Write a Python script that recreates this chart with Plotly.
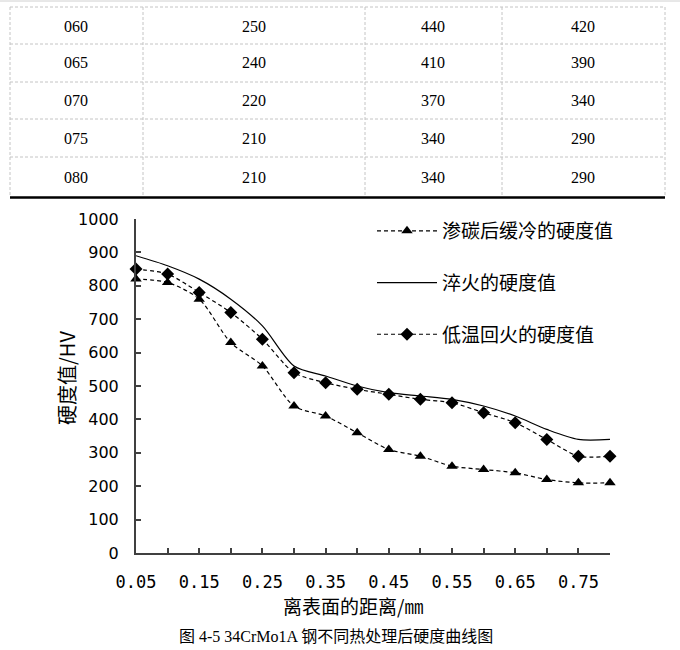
import plotly.graph_objects as go

# ---------------- data ----------------
distance = [0.05, 0.10, 0.15, 0.20, 0.25, 0.30, 0.35, 0.40,
            0.45, 0.50, 0.55, 0.60, 0.65, 0.70, 0.75, 0.80]
carburized = [820, 810, 760, 630, 560, 440, 410, 360,
              310, 290, 260, 250, 240, 220, 210, 210]
quenched = [890, 860, 820, 760, 680, 560, 530, 500,
            480, 470, 460, 440, 410, 370, 340, 340]
tempered = [850, 835, 780, 720, 640, 540, 510, 490,
            475, 460, 450, 420, 390, 340, 290, 290]
x_tick_text = ["0.05", "", "0.15", "", "0.25", "", "0.35", "",
               "0.45", "", "0.55", "", "0.65", "", "0.75", ""]
y_ticks = [0, 100, 200, 300, 400, 500, 600, 700, 800, 900, 1000]

series_names = ["渗碳后缓冷的硬度值", "淬火的硬度值", "低温回火的硬度值"]

table_distance = ["060", "065", "070", "075", "080"]
table_carburized = ["250", "240", "220", "210", "210"]
table_quenched = ["440", "410", "370", "340", "340"]
table_tempered = ["420", "390", "340", "290", "290"]

x_title = "离表面的距离/㎜"
y_title = "硬度值/HV"
caption = "图 4-5 34CrMo1A 钢不同热处理后硬度曲线图"

# ---------------- layout helpers ----------------
W, H = 680, 650


def px(x):
    return x / W


def py(y):
    return 1 - y / H


AX = "#404040"
DASH = "4px,3px"

fig = go.Figure()

fig.add_trace(go.Scatter(
    x=distance, y=carburized, name=series_names[0], mode="lines+markers",
    line=dict(color="black", width=1.2, dash=DASH, shape="spline", smoothing=0.8),
    marker=dict(symbol="triangle-up", size=10, color="black"),
    cliponaxis=False, legendgroup="a"))
fig.add_trace(go.Scatter(
    x=distance, y=quenched, name=series_names[1], mode="lines",
    line=dict(color="black", width=1.2, shape="spline", smoothing=0.8),
    cliponaxis=False, legendgroup="b"))
fig.add_trace(go.Scatter(
    x=distance, y=tempered, name=series_names[2], mode="lines+markers",
    line=dict(color="black", width=1.2, dash=DASH, shape="spline", smoothing=0.8),
    marker=dict(symbol="diamond", size=10, color="black"),
    cliponaxis=False, legendgroup="c"))

fig.update_layout(
    template="none",
    width=W, height=H,
    margin=dict(l=0, r=0, t=0, b=0, pad=0, autoexpand=False),
    paper_bgcolor="white", plot_bgcolor="white",
    showlegend=True,
    legend=dict(
        x=px(372), y=py(212), xanchor="left", yanchor="top",
        bgcolor="rgba(0,0,0,0)", borderwidth=0,
        traceorder="grouped", tracegroupgap=24,
        itemwidth=60,
        font=dict(family="Noto Sans CJK SC", size=19, color="black")),
    xaxis=dict(
        domain=[px(136), px(610)], range=[0.05, 0.80],
        tickvals=distance, ticktext=x_tick_text,
        ticks="inside", ticklen=5, tickwidth=1.5, tickcolor=AX,
        ticklabelstandoff=13, automargin=False,
        showline=True, linecolor=AX, linewidth=2,
        showgrid=False, zeroline=False,
        tickfont=dict(family="DejaVu Sans Mono", size=17, color="black")),
    yaxis=dict(
        domain=[py(553), py(219)], range=[0, 1000],
        tickvals=y_ticks,
        ticks="inside", ticklen=5, tickwidth=1.5, tickcolor=AX,
        ticklabelstandoff=12, automargin=False,
        showline=True, linecolor=AX, linewidth=2,
        showgrid=False, zeroline=False,
        tickfont=dict(family="DejaVu Sans", size=16, color="black")),
)

annotations = []
shapes = []


def label(xp, yp, text, font, angle=0):
    annotations.append(dict(x=px(xp), y=py(yp), xref="paper", yref="paper",
                            xanchor="center", yanchor="middle",
                            text=text, showarrow=False, textangle=angle, font=font))


# axis titles & caption
label(353, 605, x_title, dict(family="Noto Sans CJK SC", size=19, color="black"))
label(66, 378, y_title, dict(family="Noto Sans CJK SC", size=20, color="black"), angle=-90)
label(336, 636, caption, dict(family="Liberation Serif, Noto Sans CJK SC", size=16,
                              color="black"))

# ---------------- table ----------------
row_lines = [7, 44, 82, 119, 157]
col_lines = [10, 143, 365, 502, 665]
col_centers = [76, 254, 433, 583]
row_centers = [26, 63, 100, 138, 177]
GRID = "#c4c4c4"

for yl in row_lines:
    shapes.append(dict(type="line", xref="paper", yref="paper",
                       x0=px(col_lines[0]), x1=px(col_lines[-1]), y0=py(yl), y1=py(yl),
                       line=dict(color=GRID, width=1, dash="3px,2px")))
for xl in col_lines:
    shapes.append(dict(type="line", xref="paper", yref="paper",
                       x0=px(xl), x1=px(xl), y0=py(row_lines[0]), y1=py(196),
                       line=dict(color=GRID, width=1, dash="3px,2px")))
shapes.append(dict(type="line", xref="paper", yref="paper",
                   x0=px(col_lines[0]), x1=px(col_lines[-1]), y0=py(197.5), y1=py(197.5),
                   line=dict(color="black", width=2.5)))
shapes.append(dict(type="line", xref="paper", yref="paper",
                   x0=0, x1=1, y0=py(1), y1=py(1),
                   line=dict(color="#d0d0d0", width=1)))

columns = [table_distance, table_carburized, table_quenched, table_tempered]
for ci, col in enumerate(columns):
    for ri, val in enumerate(col):
        label(col_centers[ci], row_centers[ri], val,
              dict(family="Liberation Serif", size=16, color="black"))

fig.update_layout(annotations=annotations, shapes=shapes)

fig.write_html("out.html", config={"displayModeBar": False},
               post_script="document.body.style.margin='0';")
